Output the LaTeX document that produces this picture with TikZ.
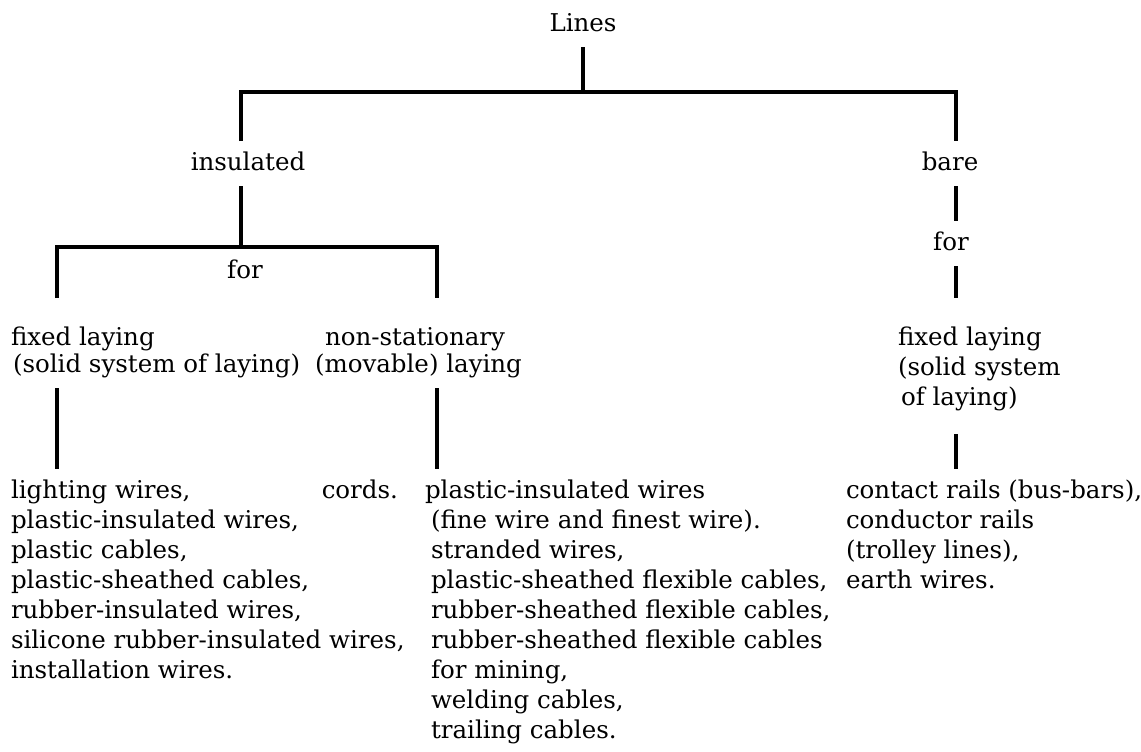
\documentclass[tikz,border=0pt]{standalone}
\usepackage{fontspec}
\setmainfont{DejaVu Serif}

\newlength{\du}
\setlength{\du}{0.5pt}

\tikzset{
  lbl/.style={inner sep=0pt, outer xsep=0pt, outer ysep=10\du,
    text height=19\du, text depth=6\du,
    font=\fontsize{12.25pt}{15pt}\selectfont},
}

\begin{document}
\begin{tikzpicture}
\pgftransformxscale{1.000000}
\pgftransformyscale{-1.000000}
\definecolor{dialinecolor}{rgb}{0.000000, 0.000000, 0.000000}
\pgfsetstrokecolor{dialinecolor}
\pgfsetlinewidth{4.500000\du}
\useasboundingbox (0\du,0\du) rectangle (1141\du,751\du);
% columns of the tree
\coordinate (colT) at (583\du,0\du);
\coordinate (colI) at (241\du,0\du);
\coordinate (colL) at (57\du,0\du);
\coordinate (colM) at (437\du,0\du);
\coordinate (colR) at (956\du,0\du);
\coordinate (jTop) at (583\du,92\du);
\coordinate (jIns) at (241\du,247\du);
% heads
\node[lbl,anchor=base] (lines) at (583\du,31\du){Lines};
\node[lbl,anchor=base] (insulated) at (248\du,170\du){insulated};
\node[lbl,anchor=base] (bare) at (950\du,170\du){bare};
\node[lbl,anchor=base] (forI) at (245\du,278\du){for};
\node[lbl,anchor=base] (forB) at (951\du,250\du){for};
\node[lbl,anchor=base west] (fixedIa) at (11\du,345\du){fixed laying};
\node[lbl,anchor=base west] (fixedIb) at (13\du,372\du){(solid system of laying)};
\node[lbl,anchor=base west] (movIa) at (325\du,345\du){non-stationary};
\node[lbl,anchor=base west] (movIb) at (315\du,372\du){(movable) laying};
\node[lbl,anchor=base west] (fixedBa) at (898\du,345\du){fixed laying};
\node[lbl,anchor=base west] (fixedBb) at (898\du,375\du){(solid system};
\node[lbl,anchor=base west] (fixedBc) at (901\du,405\du){of laying)};
% fixed laying, insulated
\node[lbl,anchor=base west] (li1) at (11\du,498\du){lighting wires,};
\node[lbl,anchor=base west] (li2) at (11\du,528\du){plastic-insulated wires,};
\node[lbl,anchor=base west] (li3) at (11\du,558\du){plastic cables,};
\node[lbl,anchor=base west] (li4) at (11\du,588\du){plastic-sheathed cables,};
\node[lbl,anchor=base west] (li5) at (11\du,618\du){rubber-insulated wires,};
\node[lbl,anchor=base west] (li6) at (11\du,648\du){silicone rubber-insulated wires,};
\node[lbl,anchor=base west] (li7) at (11\du,678\du){installation wires.};
\node[lbl,anchor=base east] (cords) at (398\du,498\du){cords.};
% movable laying
\node[lbl,anchor=base west] (m1) at (425\du,498\du){plastic-insulated wires};
\node[lbl,anchor=base west] (m2) at (431\du,528\du){(fine wire and finest wire).};
\node[lbl,anchor=base west] (m3) at (431\du,558\du){stranded wires,};
\node[lbl,anchor=base west] (m4) at (431\du,588\du){plastic-sheathed flexible cables,};
\node[lbl,anchor=base west] (m5) at (431\du,618\du){rubber-sheathed flexible cables,};
\node[lbl,anchor=base west] (m6) at (431\du,648\du){rubber-sheathed flexible cables};
\node[lbl,anchor=base west] (m7) at (431\du,678\du){for mining,};
\node[lbl,anchor=base west] (m8) at (431\du,708\du){welding cables,};
\node[lbl,anchor=base west] (m9) at (431\du,738\du){trailing cables.};
% bare
\node[lbl,anchor=base west] (r1) at (846\du,498\du){contact rails (bus-bars),};
\node[lbl,anchor=base west] (r2) at (846\du,528\du){conductor rails};
\node[lbl,anchor=base west] (r3) at (846\du,558\du){(trolley lines),};
\node[lbl,anchor=base west] (r4) at (846\du,588\du){earth wires.};
% connectors
\draw (lines) -- (jTop);
\draw (insulated.north -| colI) |- (jTop) -| (bare.north -| colR);
\draw (insulated.south -| colI) -- (jIns);
\draw[shorten <=18\du,shorten >=18\du] (fixedIa.north -| colL) |- (jIns) -| (movIa.north -| colM);
\draw (bare.south -| colR) -- (forB.north -| colR);
\draw[shorten >=18\du] (forB.south -| colR) -- (fixedBa.north -| colR);
\draw (fixedIb.south -| colL) -- (li1.north -| colL);
\draw (movIb.south -| colM) -- (m1.north -| colM);
\draw[shorten <=13\du] (fixedBc.south -| colR) -- (r1.north -| colR);
\end{tikzpicture}
\end{document}
